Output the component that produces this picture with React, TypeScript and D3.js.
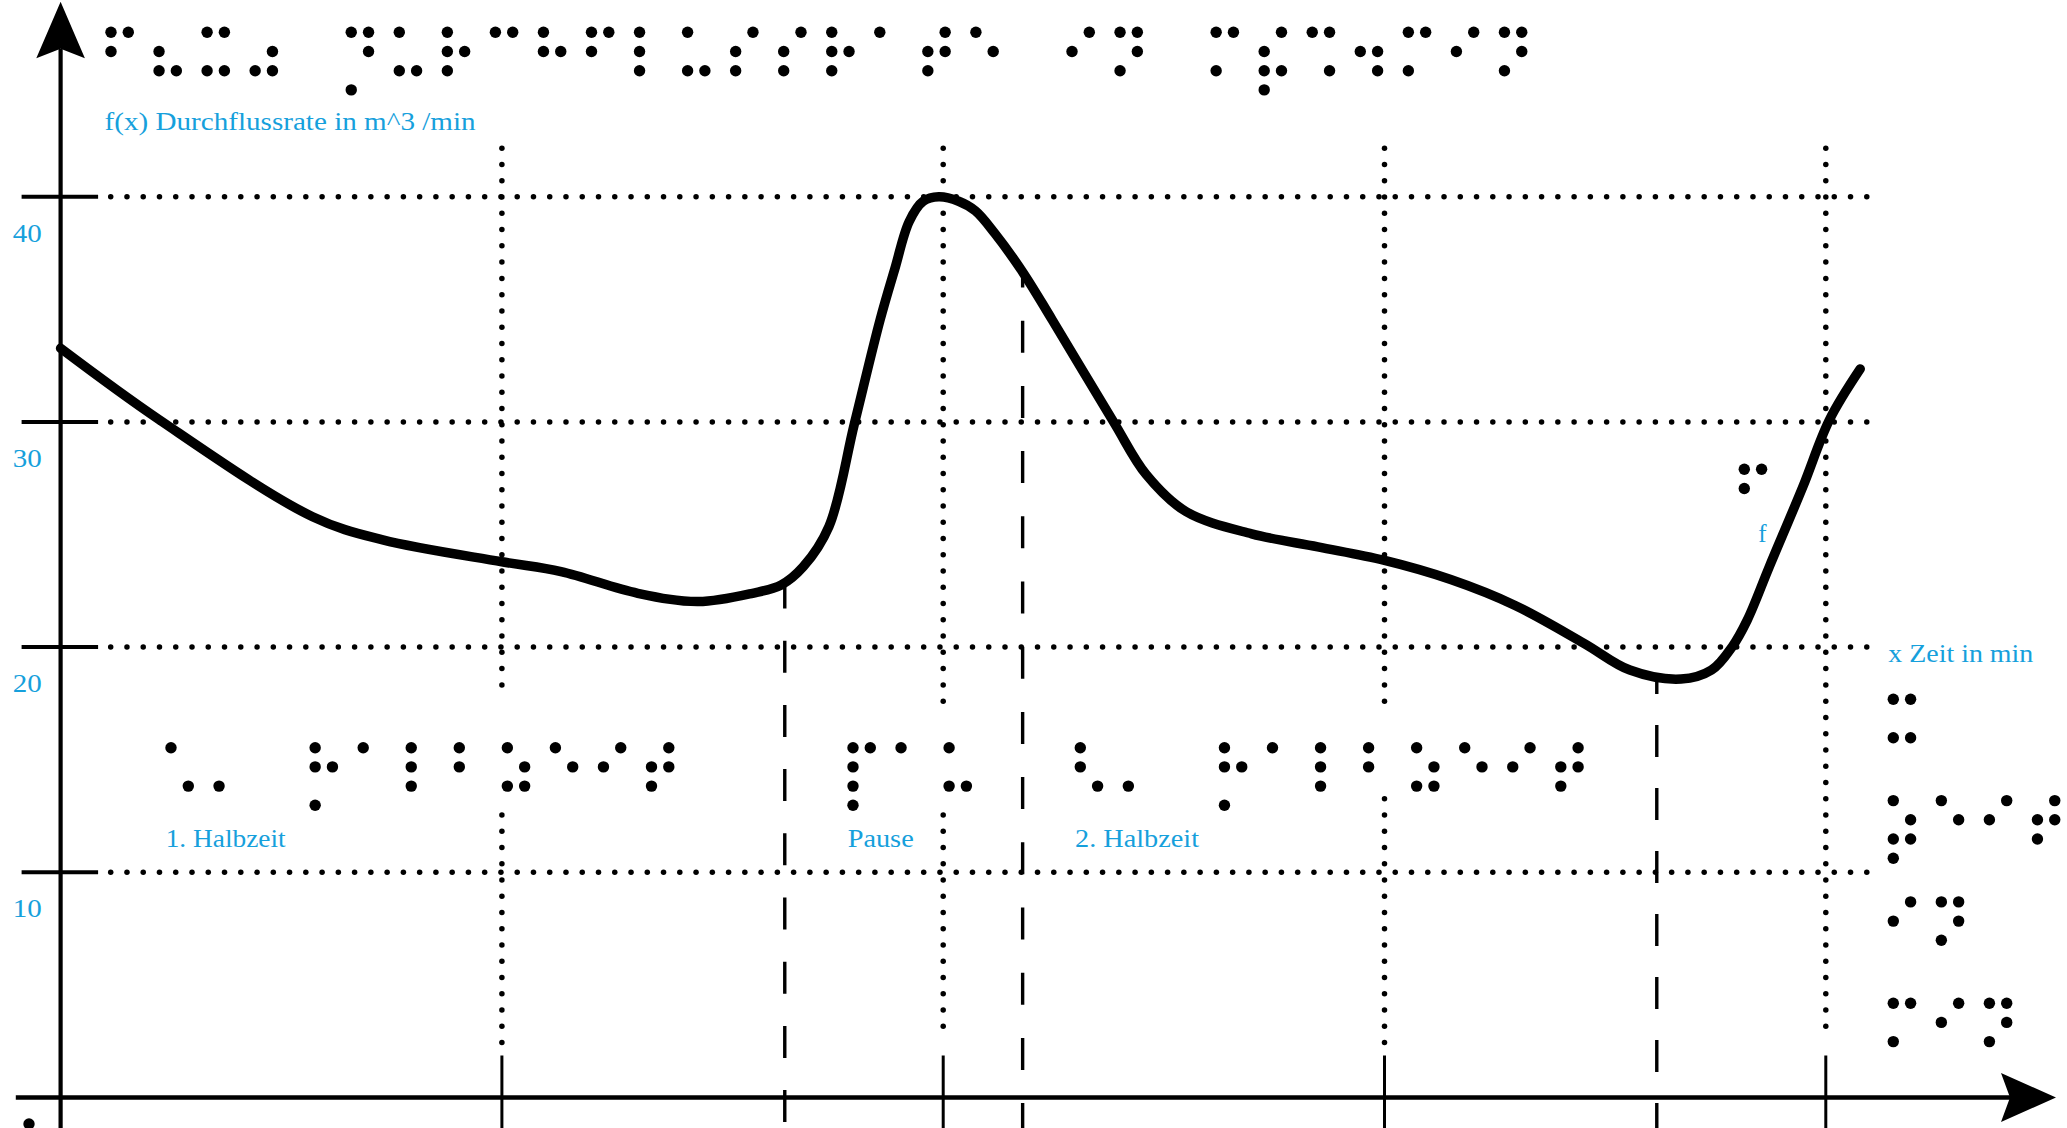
import React from "react";
import * as d3 from "d3";

// ---------- data ----------
const yTickValues = [10, 20, 30, 40];
const xTickValues = [1, 2, 3, 4];

// flow-rate curve f(x) (x in axis units, one unit per x tick)
const curveX = [0, 0.224, 0.571, 0.73, 1.0, 1.134, 1.308, 1.445, 1.568, 1.633, 1.683, 1.741, 1.799, 1.857, 1.89, 1.923, 1.955, 1.99, 2.035, 2.073, 2.117, 2.182, 2.247, 2.386, 2.46, 2.55, 2.699, 2.849, 2.998, 3.15, 3.296, 3.452, 3.556, 3.672, 3.741, 3.788, 3.822, 3.872, 3.948, 4.008, 4.078];
const curveY = [33.27, 30.09, 25.79, 24.76, 23.79, 23.35, 22.39, 22.02, 22.39, 22.76, 23.57, 25.35, 29.94, 34.53, 36.77, 38.9, 39.8, 40.0, 39.8, 39.37, 38.37, 36.6, 34.53, 30.0, 27.66, 26.02, 25.03, 24.45, 23.86, 23.0, 21.85, 20.17, 18.98, 18.58, 18.98, 20.02, 21.2, 23.57, 27.12, 30.08, 32.35];

// period boundaries (dashed lines) and the curve value where each starts
const boundaryX = [1.641, 2.18, 3.617];
const boundaryTop = [22.9, 36.7, 18.7];

// period labels (visible text and the braille that is embossed above it)
const periodLabels = ["1. Halbzeit", "Pause", "2. Halbzeit"];
const periodBraille = ["1. Halbzeit", "Pau", "2. Halbzeit"];

// texts
const titleText = "f(x) Durchflussrate in m^3 /min";
const titleBraille = "f(x) Durchflussrate in m^3/min";
const xAxisText = "x Zeit in min";
const xAxisBrailleLines = ["x", "Zeit", "in", "min"];
const curveLabel = "f";

// German 8-dot computer braille (dot numbers)
const brailleTable: Record<string, string> = {
  a: "1", b: "12", c: "14", d: "145", e: "15", f: "124", g: "1245", h: "125", i: "24", j: "245",
  k: "13", l: "123", m: "134", n: "1345", o: "135", p: "1234", q: "12345", r: "1235", s: "234",
  t: "2345", u: "136", v: "1236", w: "2456", x: "1346", y: "13456", z: "1356",
  "1": "16", "2": "126", "3": "146", ".": "3", "(": "236", ")": "356", "^": "23467", "/": "256", " ": "",
};

// ---------- layout ----------
const W = 2067;
const H = 1128;
const BLUE = "#16a0dc";
const FONT = "'Liberation Serif', 'Times New Roman', serif";
const BR = { dx: 17.3, dy: 19.2, pitch: 48.05, r: 5.7 };
const GRID = { step: 16.26, r: 2.75, left: 110.7, right: 1872, top: 148.3 };

const xScale = d3.scaleLinear().domain([0, 4]).range([60.6, 1825.8]);
const yScale = d3.scaleLinear().domain([0, 40]).range([1097.5, 196.7]);

const verticalGrid = [
  { x: 1, gap: [12.77, 18.09], bottom: 2.2 },
  { x: 2, gap: [12.77, 17.4], bottom: 2.8 },
  { x: 3, gap: [13.5, 17.4], bottom: 2.2 },
  { x: 4, gap: null as null | number[], bottom: 2.8 },
];

const dashAnchor = [640.7, 646.7, 662];
const dashPeriod = [64.2, 65.2, 63];

const periodBrailleX = [171, 853, 1080.3];
const periodTextLength = [120, 66, 124];

function toBraille(text: string): string {
  let out = "";
  for (const ch of text) {
    const lower = ch.toLowerCase();
    let dots = brailleTable[lower] ?? "";
    if (ch !== lower) dots += "7";
    let code = 0;
    for (const d of dots) code |= 1 << (Number(d) - 1);
    out += String.fromCodePoint(0x2800 + code);
  }
  return out;
}

const DOT_POS = [
  [0, 0], [0, 1], [0, 2], [1, 0], [1, 1], [1, 2], [0, 3], [1, 3],
];

function brailleDots(cells: string, x0: number, y0: number) {
  const dots: { cx: number; cy: number }[] = [];
  Array.from(cells).forEach((c, i) => {
    const code = (c.codePointAt(0) ?? 0x2800) - 0x2800;
    for (let b = 0; b < 8; b++) {
      if (code & (1 << b)) {
        dots.push({ cx: x0 + i * BR.pitch + DOT_POS[b][0] * BR.dx, cy: y0 + DOT_POS[b][1] * BR.dy });
      }
    }
  });
  return dots;
}

function Braille({ text, x, y, raw }: { text?: string; x: number; y: number; raw?: string }) {
  const cells = raw ?? toBraille(text ?? "");
  return (
    <g>
      <title>{cells}</title>
      {brailleDots(cells, x, y).map((d, i) => (
        <circle key={i} cx={d.cx} cy={d.cy} r={BR.r} fill="#000" />
      ))}
    </g>
  );
}

export default function App() {
  const points = curveX.map((x, i) => [x, curveY[i]] as [number, number]);
  const line = d3
    .line<[number, number]>()
    .x((d) => xScale(d[0]))
    .y((d) => yScale(d[1]))
    .curve(d3.curveCatmullRom.alpha(0.5));

  const x0 = xScale(0);
  const y0 = yScale(0);

  // horizontal dotted grid
  const hDots: { cx: number; cy: number }[] = [];
  yTickValues.forEach((v) => {
    for (const x of d3.range(GRID.left, GRID.right, GRID.step)) hDots.push({ cx: x, cy: yScale(v) });
  });
  // vertical dotted grid
  const vDots: { cx: number; cy: number }[] = [];
  verticalGrid.forEach((g) => {
    for (const y of d3.range(GRID.top, yScale(g.bottom), GRID.step)) {
      const v = yScale.invert(y);
      if (g.gap && v > g.gap[0] && v < g.gap[1]) continue;
      vDots.push({ cx: xScale(g.x), cy: y });
    }
  });

  const xArrowTip = 2056;
  const yArrowTip = 1.7;

  return (
    <svg
      width={W}
      height={H}
      viewBox={`0 0 ${W} ${H}`}
      style={{ position: "absolute", left: 0, top: 0, display: "block", background: "#fff" }}
    >
      <rect x={0} y={0} width={W} height={H} fill="#fff" />

      {/* dotted grid */}
      {hDots.map((d, i) => (
        <circle key={"h" + i} cx={d.cx} cy={d.cy} r={GRID.r} fill="#000" />
      ))}
      {vDots.map((d, i) => (
        <circle key={"v" + i} cx={d.cx} cy={d.cy} r={GRID.r} fill="#000" />
      ))}

      {/* dashed period boundaries */}
      {boundaryX.map((bx, i) => {
        const top = yScale(boundaryTop[i]);
        const P = dashPeriod[i];
        const off = (((top - dashAnchor[i]) % P) + P) % P;
        return (
          <line
            key={"b" + i}
            x1={xScale(bx)}
            x2={xScale(bx)}
            y1={top}
            y2={H + 20}
            stroke="#000"
            strokeWidth={3.4}
            strokeDasharray={`32 ${P - 32}`}
            strokeDashoffset={off}
          />
        );
      })}

      {/* x ticks */}
      {xTickValues.map((v) => (
        <line key={"xt" + v} x1={xScale(v)} x2={xScale(v)} y1={y0 - 42} y2={H + 20} stroke="#000" strokeWidth={3} />
      ))}
      {/* y ticks */}
      {yTickValues.map((v) => (
        <line key={"yt" + v} x1={x0 - 39} x2={x0 + 37.5} y1={yScale(v)} y2={yScale(v)} stroke="#000" strokeWidth={4} />
      ))}
      {yTickValues.map((v) => (
        <text
          key={"yl" + v}
          x={12.7}
          y={yScale(v) + 45}
          fill={BLUE}
          fontFamily={FONT}
          fontSize={25}
          textLength={29}
          lengthAdjust="spacingAndGlyphs"
        >
          {v}
        </text>
      ))}

      {/* axes */}
      <line x1={15.8} x2={xArrowTip - 46} y1={y0} y2={y0} stroke="#000" strokeWidth={4.6} />
      <path
        d={`M${xArrowTip},${y0} L${xArrowTip - 55},${y0 - 24.5} L${xArrowTip - 46},${y0} L${xArrowTip - 55},${y0 + 24.5} Z`}
        fill="#000"
      />
      <line x1={x0} x2={x0} y1={H + 20} y2={yArrowTip + 47} stroke="#000" strokeWidth={4.2} />
      <path
        d={`M${x0},${yArrowTip} L${x0 - 24.3},${yArrowTip + 56.6} L${x0},${yArrowTip + 47} L${x0 + 24.3},${yArrowTip + 56.6} Z`}
        fill="#000"
      />

      {/* curve */}
      <path d={line(points) ?? ""} fill="none" stroke="#000" strokeWidth={9.5} strokeLinecap="round" strokeLinejoin="round" />

      {/* title */}
      <Braille text={titleBraille} x={111} y={32.3} />
      <text x={104.6} y={129.5} fill={BLUE} fontFamily={FONT} fontSize={25} textLength={371} lengthAdjust="spacingAndGlyphs">
        {titleText}
      </text>

      {/* period labels */}
      {periodLabels.map((t, i) => (
        <g key={"p" + i}>
          <Braille text={periodBraille[i]} x={periodBrailleX[i]} y={747.7} />
          <text
            x={periodBrailleX[i] - 5.3}
            y={846.7}
            fill={BLUE}
            fontFamily={FONT}
            fontSize={25}
            textLength={periodTextLength[i]}
            lengthAdjust="spacingAndGlyphs"
          >
            {t}
          </text>
        </g>
      ))}

      {/* curve label */}
      <Braille text={curveLabel} x={1744.3} y={469.3} />
      <text x={1758.3} y={541.7} fill={BLUE} fontFamily={FONT} fontSize={25}>
        {curveLabel}
      </text>

      {/* x axis label */}
      <text x={1888.3} y={661.7} fill={BLUE} fontFamily={FONT} fontSize={25} textLength={145} lengthAdjust="spacingAndGlyphs">
        {xAxisText}
      </text>
      {xAxisBrailleLines.map((t, i) => (
        <Braille key={"xb" + i} text={t} x={1893.3} y={699.3 + i * 101.3} />
      ))}

      {/* cut-off braille cell at the bottom-left corner */}
      <Braille raw={"\u2801"} x={29} y={1124} />
    </svg>
  );
}
